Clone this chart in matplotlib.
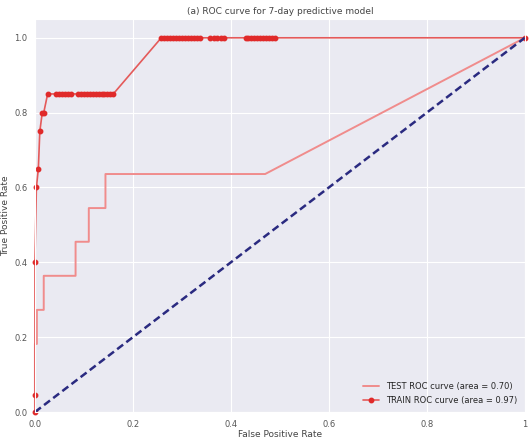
import matplotlib.pyplot as plt
import seaborn as sns

# ROC points
test_fpr = [0.0, 0.0, 0.004, 0.004, 0.018, 0.018, 0.083, 0.083, 0.11, 0.11,
            0.144, 0.144, 0.47, 1.0]
test_tpr = [0.0, 0.182, 0.182, 0.273, 0.273, 0.364, 0.364, 0.455, 0.455, 0.545,
            0.545, 0.636, 0.636, 1.0]

train_fpr = [0.0, 0.0, 0.0, 0.003, 0.007, 0.010, 0.015, 0.018, 0.026,
             0.044, 0.050, 0.056, 0.062, 0.068, 0.074,
             0.088, 0.094, 0.100, 0.106, 0.112, 0.118, 0.124, 0.130, 0.136,
             0.142, 0.148, 0.154, 0.160,
             0.258, 0.264, 0.270, 0.276, 0.282, 0.288, 0.294, 0.300, 0.306,
             0.312, 0.318, 0.324, 0.330, 0.336,
             0.358, 0.365, 0.372, 0.379, 0.385,
             0.430, 0.436, 0.442, 0.448, 0.454, 0.460, 0.466, 0.472, 0.478,
             0.484, 0.490, 1.0]
train_tpr = [0.0, 0.045, 0.40, 0.60, 0.65, 0.75, 0.80, 0.80, 0.85,
             0.85, 0.85, 0.85, 0.85, 0.85, 0.85,
             0.85, 0.85, 0.85, 0.85, 0.85, 0.85, 0.85, 0.85, 0.85,
             0.85, 0.85, 0.85, 0.85,
             1.0, 1.0, 1.0, 1.0, 1.0, 1.0, 1.0, 1.0, 1.0,
             1.0, 1.0, 1.0, 1.0, 1.0,
             1.0, 1.0, 1.0, 1.0, 1.0,
             1.0, 1.0, 1.0, 1.0, 1.0, 1.0, 1.0, 1.0, 1.0,
             1.0, 1.0, 1.0]

test_auc = 0.70
train_auc = 0.97

sns.set_style('darkgrid')
plt.rcParams['font.family'] = ['DejaVu Sans']

fig, ax = plt.subplots(figsize=(5.29, 4.44), dpi=100)
fig.subplots_adjust(left=0.066, right=0.992, top=0.957, bottom=0.072)

ax.plot(test_fpr, test_tpr, color='#f08c8c', lw=1.4, clip_on=False,
        label=f'TEST ROC curve (area = {test_auc:.2f})')
ax.plot(train_fpr, train_tpr, color='#e45a5a', lw=1.2, marker='o',
        markersize=3.2, markerfacecolor='#e02a2a', markeredgecolor='#e02a2a',
        clip_on=False, label=f'TRAIN ROC curve (area = {train_auc:.2f})')
ax.plot([0, 1], [0, 1], color='#2a2a80', lw=1.8, linestyle='--',
        dashes=(3, 1.6), clip_on=False)

ax.set_xlim(0.0, 1.0)
ax.set_ylim(0.0, 1.05)
ax.set_xticks([0.0, 0.2, 0.4, 0.6, 0.8, 1.0])
ax.set_xticklabels(['0.0', '0.2', '0.4', '0.6', '0.8', '1'])
ax.set_yticks([0.0, 0.2, 0.4, 0.6, 0.8, 1.0])
ax.tick_params(labelsize=6, colors='#555555', pad=2)
ax.set_xlabel('False Positive Rate', fontsize=6.5, color='#444444', labelpad=1)
ax.set_ylabel('True Positive Rate', fontsize=6.5, color='#444444', labelpad=3)
ax.set_title('(a) ROC curve for 7-day predictive model', fontsize=6.5,
             color='#444444', pad=4)
ax.legend(loc='lower right', fontsize=6, frameon=False)

plt.savefig('out.png', dpi=100)
